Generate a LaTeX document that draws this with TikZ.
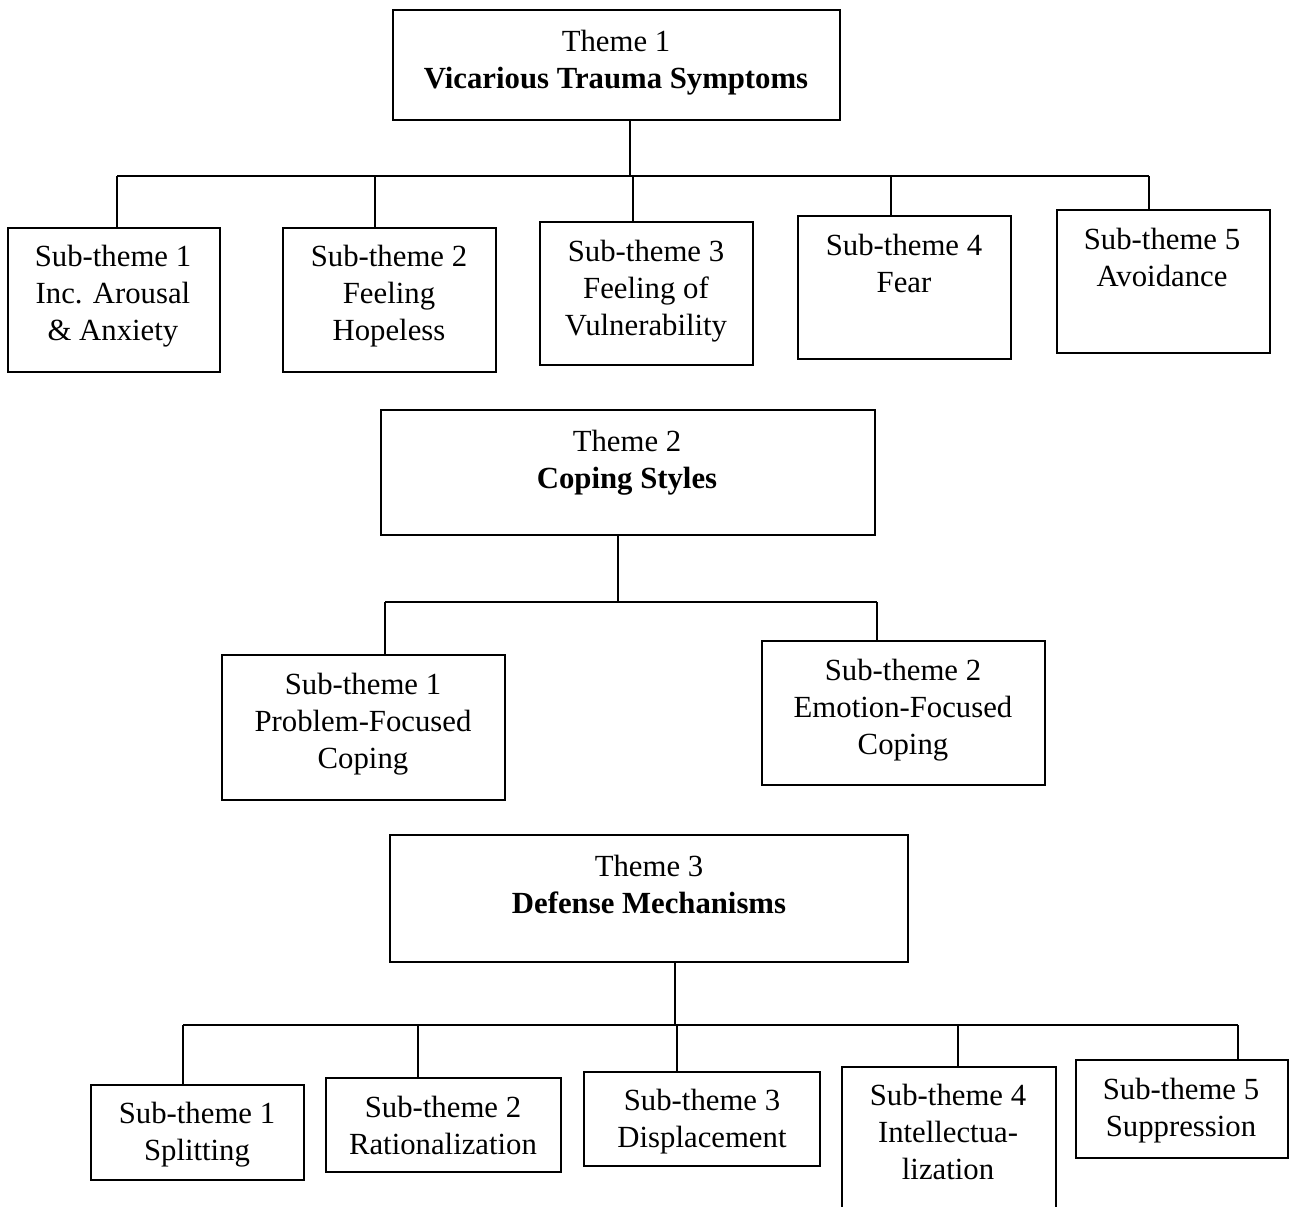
\documentclass[tikz,border=0pt]{standalone}
\usepackage{fontspec}
\setmainfont{Liberation Serif}
\usetikzlibrary{fit}
\begin{document}
\begin{tikzpicture}[x=0.02cm,y=-0.02cm,
  box/.style={draw, line width=1.2pt, inner sep=0pt},
  txt/.style={align=center, anchor=north, inner sep=0pt, font=\fontsize{17.5}{21}\selectfont},
  conn/.style={line width=1.2pt}]
\useasboundingbox (0,0) rectangle (1290,1206);
\clip (0,0) rectangle (1290,1206);
% Theme 1
\node[box, fit={(393,10) (840,120)}] (t1) {};
\node[txt] (t1t) at (616,30) {Theme 1\\\textbf{Vicarious Trauma Symptoms}};
\node[box, fit={(8,228) (220,372)}] (s11) {};
\node[txt] (s11t) at (113,245) {Sub-theme 1\\Inc. Arousal\\\& Anxiety};
\node[box, fit={(283,228) (496,372)}] (s12) {};
\node[txt] (s12t) at (389,245) {Sub-theme 2\\Feeling\\Hopeless};
\node[box, fit={(540,222) (753,365)}] (s13) {};
\node[txt] (s13t) at (646,240) {Sub-theme 3\\Feeling of\\Vulnerability};
\node[box, fit={(798,216) (1011,359)}] (s14) {};
\node[txt] (s14t) at (904,234) {Sub-theme 4\\Fear};
\node[box, fit={(1057,210) (1270,353)}] (s15) {};
\node[txt] (s15t) at (1162,228) {Sub-theme 5\\Avoidance};
\coordinate (j1) at (630,176);
\coordinate (a11) at (117,176);
\coordinate (a12) at (375,176);
\coordinate (a13) at (633,176);
\coordinate (a14) at (891,176);
\coordinate (a15) at (1149,176);
\draw[conn] (j1 |- t1.south) -- (j1);
\draw[conn] (a11) -- (a15);
\draw[conn] (a11) -- (a11 |- s11.north);
\draw[conn] (a12) -- (a12 |- s12.north);
\draw[conn] (a13) -- (a13 |- s13.north);
\draw[conn] (a14) -- (a14 |- s14.north);
\draw[conn] (a15) -- (a15 |- s15.north);
% Theme 2
\node[box, fit={(381,410) (875,535)}] (t2) {};
\node[txt] (t2t) at (627,430) {Theme 2\\\textbf{Coping Styles}};
\node[box, fit={(222,655) (505,800)}] (s21) {};
\node[txt] (s21t) at (363,673) {Sub-theme 1\\Problem-Focused\\Coping};
\node[box, fit={(762,641) (1045,785)}] (s22) {};
\node[txt] (s22t) at (903,659) {Sub-theme 2\\Emotion-Focused\\Coping};
\coordinate (j2) at (618,602);
\coordinate (a21) at (385,602);
\coordinate (a22) at (877,602);
\draw[conn] (j2 |- t2.south) -- (j2);
\draw[conn] (a21) -- (a22);
\draw[conn] (a21) -- (a21 |- s21.north);
\draw[conn] (a22) -- (a22 |- s22.north);
% Theme 3
\node[box, fit={(390,835) (908,962)}] (t3) {};
\node[txt] (t3t) at (649,855) {Theme 3\\\textbf{Defense Mechanisms}};
\node[box, fit={(91,1085) (304,1180)}] (s31) {};
\node[txt] (s31t) at (197,1102) {Sub-theme 1\\Splitting};
\node[box, fit={(326,1078) (561,1172)}] (s32) {};
\node[txt] (s32t) at (443,1096) {Sub-theme 2\\Rationalization};
\node[box, fit={(584,1072) (820,1166)}] (s33) {};
\node[txt] (s33t) at (702,1089) {Sub-theme 3\\Displacement};
\node[box, fit={(842,1067) (1056,1225)}] (s34) {};
\node[txt] (s34t) at (948,1084) {Sub-theme 4\\Intellectua-\\lization};
\node[box, fit={(1076,1060) (1288,1158)}] (s35) {};
\node[txt] (s35t) at (1181,1078) {Sub-theme 5\\Suppression};
\coordinate (j3) at (675,1025);
\coordinate (a31) at (183,1025);
\coordinate (a32) at (418,1025);
\coordinate (a33) at (677,1025);
\coordinate (a34) at (958,1025);
\coordinate (a35) at (1238,1025);
\draw[conn] (j3 |- t3.south) -- (j3);
\draw[conn] (a31) -- (a35);
\draw[conn] (a31) -- (a31 |- s31.north);
\draw[conn] (a32) -- (a32 |- s32.north);
\draw[conn] (a33) -- (a33 |- s33.north);
\draw[conn] (a34) -- (a34 |- s34.north);
\draw[conn] (a35) -- (a35 |- s35.north);
\end{tikzpicture}
\end{document}
